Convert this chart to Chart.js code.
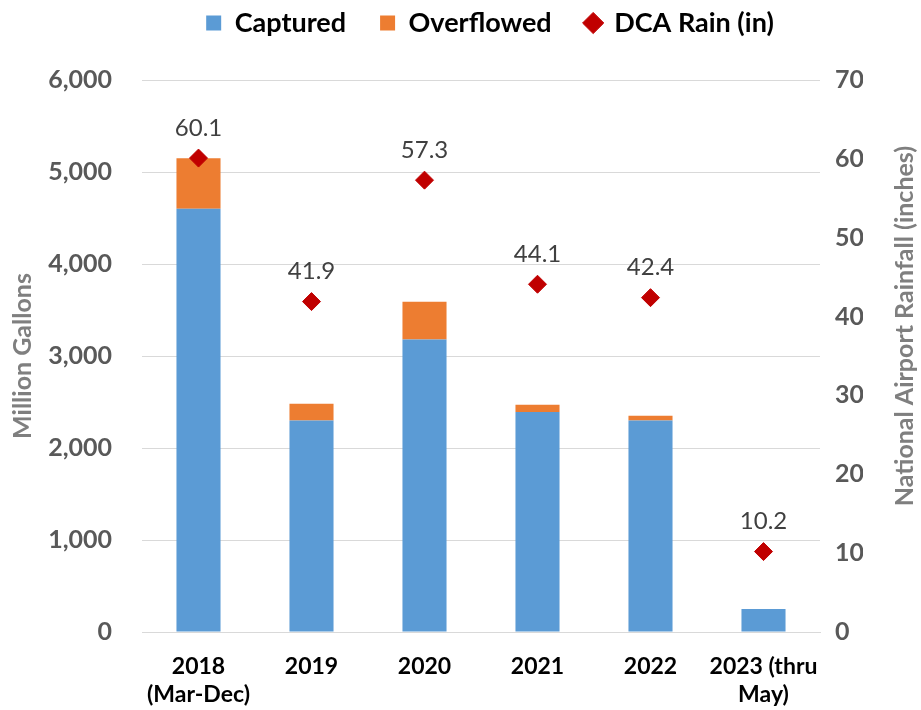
<!DOCTYPE html>
<html><head><meta charset="utf-8">
<script src="https://cdn.jsdelivr.net/npm/chart.js@4/dist/chart.umd.min.js"></script>
<style>html,body{margin:0;padding:0;background:#fff}#wrap{width:921px;height:710px}</style>
</head><body><div id="wrap"><canvas id="c"></canvas></div>
<script>
const categories = [["2018","(Mar-Dec)"],"2019","2020","2021","2022",["2023 (thru","May)"]];
const captured = [4600, 2300, 3180, 2390, 2300, 250];
const overflowed = [550, 180, 410, 80, 50, 0];
const rain = [60.1, 41.9, 57.3, 44.1, 42.4, 10.2];
const leftTicks = [0,1000,2000,3000,4000,5000,6000];
const rightTicks = [0,10,20,30,40,50,60,70];

const FONT = "Lato, 'Open Sans', sans-serif";
const LEG_SIZE = 27, LEG_PAD = 34;

const labelPlugin = {
  id:'rainLabels',
  afterDatasetsDraw(chart){
    const meta = chart.getDatasetMeta(2);
    const ctx = chart.ctx;
    ctx.save();
    ctx.font = "24px " + FONT;
    ctx.fillStyle = "#404040";
    ctx.textAlign = "center";
    ctx.textBaseline = "middle";
    meta.data.forEach((pt,i)=>{
      ctx.fillText(rain[i].toFixed(1), pt.x, pt.y - 30);
    });
    const a = chart.chartArea;
    ctx.translate(905, (a.top + a.bottom)/2 - 30);
    ctx.rotate(-Math.PI/2);
    ctx.font = "bold 25px " + FONT;
    ctx.fillStyle = "#7f7f7f";
    ctx.fillText("National Airport Rainfall (inches)", 0, 0);
    ctx.restore();
  }
};

const legendPlace = {
  id:'legendPlace',
  beforeInit(chart){
    const lg = chart.legend;
    if (!lg) return;
    const orig = lg.fit;
    lg.fit = function(){ orig.call(this); this.height = 80; };
  },
  afterLayout(chart){
    const lg = chart.legend;
    lg.left = 59; lg.right = 921;
    lg.top = 23 - LEG_PAD - LEG_SIZE/2;
  }
};

new Chart(document.getElementById('c'), {
  data:{
    labels:categories,
    datasets:[
      {type:'bar',label:'Captured',data:captured,backgroundColor:'#5b9bd5',yAxisID:'y',stack:'s',barPercentage:0.39,categoryPercentage:1,order:2},
      {type:'bar',label:'Overflowed',data:overflowed,backgroundColor:'#ed7d31',yAxisID:'y',stack:'s',barPercentage:0.39,categoryPercentage:1,order:2},
      {type:'line',label:'DCA Rain (in)',data:rain,yAxisID:'y2',showLine:false,pointStyle:'rectRot',pointRadius:9,pointHoverRadius:9,backgroundColor:'#c00000',borderColor:'#c00000',order:1}
    ]
  },
  options:{
    responsive:true,maintainAspectRatio:false,animation:false,
    layout:{padding:{left:8,right:58,top:0,bottom:0}},
    plugins:{
      legend:{position:'top',labels:{usePointStyle:true,color:'#000',font:{family:FONT,size:LEG_SIZE,weight:'bold'},padding:LEG_PAD,boxWidth:15,boxHeight:15,
        sort:(a,b)=>a.datasetIndex-b.datasetIndex,
        generateLabels(chart){
          const items = Chart.defaults.plugins.legend.labels.generateLabels(chart);
          items.forEach(it=>{ it.pointStyle = it.datasetIndex===2 ? 'rectRot' : 'rect'; });
          return items;
        }}},
      tooltip:{enabled:false}
    },
    scales:{
      x:{stacked:true,grid:{display:false},border:{color:'#d9d9d9'},afterFit(s){s.height=78;},
        ticks:{color:'#000',padding:13,font:{family:FONT,size:23,weight:'bold'},maxRotation:0,autoSkip:false}},
      y:{stacked:true,position:'left',min:0,max:6000,afterBuildTicks(a){a.ticks=leftTicks.map(v=>({value:v}));},
        afterFit(s){s.width=134;},
        grid:{color:'#d9d9d9',drawTicks:false},border:{display:false},
        ticks:{color:'#595959',padding:30,font:{family:FONT,size:25,weight:'bold'},callback:v=>v.toLocaleString('en-US')},
        title:{display:true,text:'Million Gallons',color:'#7f7f7f',font:{family:FONT,size:25,weight:'bold'},padding:{top:0,bottom:0}}},
      y2:{position:'right',min:0,max:70,afterBuildTicks(a){a.ticks=rightTicks.map(v=>({value:v}));},
        afterFit(s){s.width=43;},
        grid:{display:false,drawTicks:false},border:{display:false},
        ticks:{color:'#595959',padding:15,font:{family:FONT,size:25,weight:'bold'}}}
    }
  },
  plugins:[labelPlugin, legendPlace]
});
</script></body></html>
